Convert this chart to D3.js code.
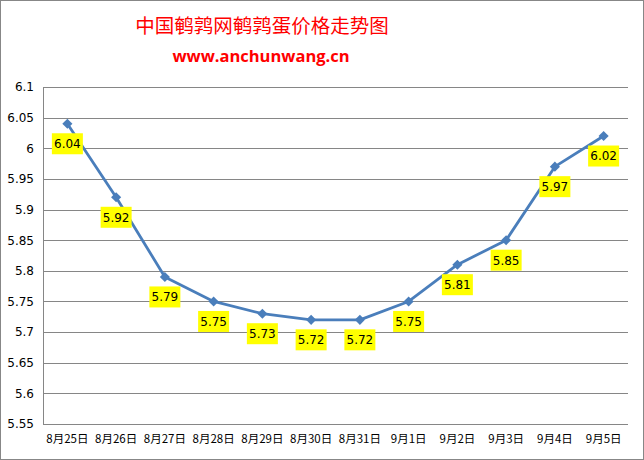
<!DOCTYPE html>
<html><head><meta charset="utf-8">
<script src="https://cdn.jsdelivr.net/npm/d3@7"></script>
<style>body{margin:0;background:#fff}svg{display:block}</style>
</head><body>
<script>
const categories = ["8月25日","8月26日","8月27日","8月28日","8月29日","8月30日","8月31日","9月1日","9月2日","9月3日","9月4日","9月5日"];
const prices = [6.04,5.92,5.79,5.75,5.73,5.72,5.72,5.75,5.81,5.85,5.97,6.02];
const yTicks = [5.55,5.6,5.65,5.7,5.75,5.8,5.85,5.9,5.95,6,6.05,6.1];
const titleText = "中国鹌鹑网鹌鹑蛋价格走势图";
const subtitleText = "www.anchunwang.cn";

const W = 644, H = 460;
const m = {left:43, right:16, top:87, bottom:36};
const svg = d3.select("body").append("svg").attr("width", W).attr("height", H);
svg.append("rect").attr("x",0.5).attr("y",0.5).attr("width",W-1).attr("height",H-1)
  .attr("fill","#fff").attr("stroke","#878787");

const x = d3.scaleBand().domain(categories).range([m.left, W-m.right]);
const y = d3.scaleLinear().domain([5.55,6.1]).range([H-m.bottom, m.top]);

svg.append("text").attr("x",262).attr("y",33).attr("text-anchor","middle")
  .attr("font-family","'Noto Sans CJK SC'").attr("font-size",19.5).attr("fill","#ff0000").text(titleText);
svg.append("text").attr("x",261).attr("y",62).attr("text-anchor","middle")
  .attr("font-family","'Open Sans', sans-serif").attr("font-weight","bold").attr("font-size",16.5).attr("fill","#ff0000").text(subtitleText);

// gridlines
const gy = svg.append("g").attr("transform",`translate(${m.left},0)`)
  .call(d3.axisLeft(y).tickValues(yTicks).tickSize(-(W-m.left-m.right)).tickFormat(d=>d3.format("")(+d.toFixed(2))));
gy.select(".domain").remove();
gy.selectAll(".tick line").attr("stroke","#868686").attr("shape-rendering","crispEdges");
gy.selectAll(".tick text").attr("x",-9).attr("font-family","Tahoma, 'DejaVu Sans', sans-serif").attr("font-size",12).attr("fill","#000");
svg.append("line").attr("x1",m.left).attr("x2",m.left).attr("y1",m.top).attr("y2",H-m.bottom)
  .attr("stroke","#868686").attr("shape-rendering","crispEdges");

const gx = svg.append("g").attr("transform",`translate(0,${H-m.bottom})`)
  .call(d3.axisBottom(x).tickSize(0));
gx.select(".domain").remove();
gx.selectAll(".tick text").attr("dy",0).attr("y",19).attr("font-family","'Noto Sans CJK SC', sans-serif").attr("font-size",11.5).attr("fill","#000");

const cx = d => x(d) + x.bandwidth()/2;
const data = categories.map((c,i)=>({c, v:prices[i]}));
svg.append("path").datum(data)
  .attr("d", d3.line().x(d=>cx(d.c)).y(d=>y(d.v)))
  .attr("fill","none").attr("stroke","#4a7ebb").attr("stroke-width",2.8).attr("stroke-linejoin","round");
svg.selectAll(".mk").data(data).enter().append("path")
  .attr("transform", d=>`translate(${cx(d.c)},${y(d.v)})`)
  .attr("d", d3.symbol().type(d3.symbolDiamond2).size(65))
  .attr("fill","#4a7ebb");

const lab = svg.selectAll(".lab").data(data).enter().append("g")
  .attr("transform", d=>`translate(${cx(d.c)},${y(d.v)+20})`);
lab.append("rect").attr("x",-15.5).attr("y",-10.5).attr("width",31).attr("height",21).attr("fill","#ffff00");
lab.append("text").attr("text-anchor","middle").attr("dy","0.36em")
  .attr("font-family","Tahoma, 'DejaVu Sans', sans-serif").attr("font-size",12).attr("fill","#000")
  .text(d=>d3.format(".2f")(d.v));
</script>
</body></html>
